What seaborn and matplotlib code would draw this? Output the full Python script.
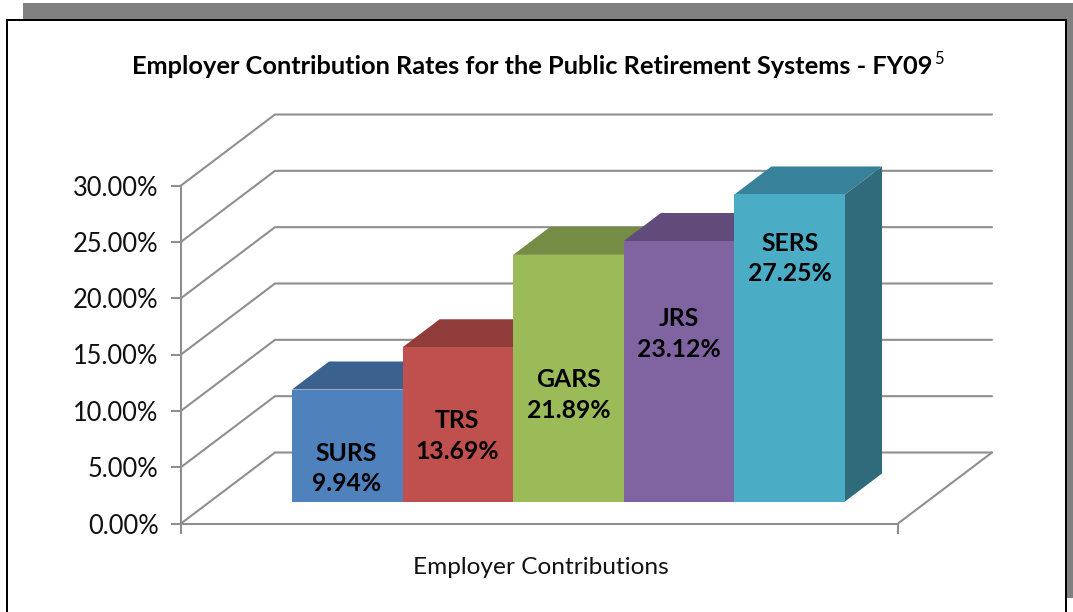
import matplotlib
matplotlib.use("Agg")
import matplotlib.pyplot as plt
from matplotlib.patches import Polygon, Rectangle
import pandas as pd
import seaborn as sns

systems = ["SURS", "TRS", "GARS", "JRS", "SERS"]
rates = [9.94, 13.69, 21.89, 23.12, 27.25]
rate_ticks = [0, 5, 10, 15, 20, 25, 30]
face_colors = ["#4F81BD", "#C0504D", "#9BBB59", "#8064A2", "#4BACC6"]
top_colors = ["#3B618E", "#903C3A", "#748C43", "#604B7A", "#38819A"]
side_colors = ["#2F4D71", "#733230", "#5D7036", "#4D3C61", "#2F6B7B"]

# Canvas and plot box, in pixels from the top left corner
W, H = 1073, 612
BOX_L, BOX_R, BOX_T, BOX_B = 181, 898, 185.5, 523.5
BAR_L, BAR_W = 292, 110.6
FLOOR_LIFT = 22          # bars stand this far above the front edge of the floor
WALL_DX, WALL_DY = 94, 71
BAR_DX, BAR_DY = 37, 28
GRID = "#8F8F8F"
LW = 1.5

# Per-label nudges: pixels below the bar top, pixels right of the bar centre
label_drop = [79, 89, 140, 93, 64]
label_shift = [-1, -1, 0, 0, 0]

sns.set_theme(style="white")
plt.rcParams["font.family"] = ["Lato", "DejaVu Sans"]

fig = plt.figure(figsize=(W / 100, H / 100), dpi=100, facecolor="white")
ax = fig.add_axes([BOX_L / W, 1 - BOX_B / H, (BOX_R - BOX_L) / W, (BOX_B - BOX_T) / H])
ax.patch.set_alpha(0)

per_pct = (BOX_B - BOX_T) / rate_ticks[-1]
xmin = -0.5 - (BAR_L - BOX_L) / BAR_W
xmax = xmin + (BOX_R - BOX_L) / BAR_W
to_x = lambda px: px / BAR_W
to_y = lambda px: px / per_pct

table = pd.DataFrame({"system": systems, "rate": rates})
base = to_y(FLOOR_LIFT)
sns.barplot(data=table, x="system", y="rate", hue="system", order=systems,
            hue_order=systems, palette=face_colors, width=1.0, bottom=base,
            legend=False, saturation=1, linewidth=0, zorder=4, ax=ax)
ax.set_xlim(xmin, xmax)
ax.set_ylim(0, rate_ticks[-1])

# Extruded top and side faces of each bar
ddx, ddy = to_x(BAR_DX), to_y(BAR_DY)
for i, rate in enumerate(rates):
    l, r, low, high = i - 0.5, i + 0.5, base, base + rate
    ax.add_patch(Polygon([(l, high), (l + ddx, high + ddy), (r + ddx, high + ddy), (r, high)],
                         closed=True, fc=top_colors[i], ec="none", zorder=2 + i * 0.1, clip_on=False))
    ax.add_patch(Polygon([(r, low), (r + ddx, low + ddy), (r + ddx, high + ddy), (r, high)],
                         closed=True, fc=side_colors[i], ec="none", zorder=2 + i * 0.1, clip_on=False))

# Side wall and back wall gridlines, plus the floor outline
wdx, wdy = to_x(WALL_DX), to_y(WALL_DY)
for tick in rate_ticks:
    ax.plot([xmin, xmin + wdx, xmax + wdx], [tick, tick + wdy, tick + wdy],
            color=GRID, lw=LW, clip_on=False, zorder=1, solid_joinstyle="miter")
ax.plot([xmax, xmax + wdx], [0, wdy], color=GRID, lw=LW, clip_on=False, zorder=1)

# Axes frame and ticks
for side in ("top", "right"):
    ax.spines[side].set_visible(False)
for side in ("left", "bottom"):
    ax.spines[side].set_color(GRID)
    ax.spines[side].set_linewidth(LW)
ax.set_yticks(rate_ticks)
ax.set_yticklabels([f"{t:.2f}%" for t in rate_ticks], fontsize=18.4, color="#111111")
ax.set_xticks([xmin, xmax])
ax.set_xticklabels(["", ""])
ax.tick_params(axis="both", direction="out", length=7, width=LW, color=GRID, pad=13,
               left=True, bottom=True)
ax.tick_params(axis="y", pad=9)
ax.set_ylabel("")
ax.set_xlabel("")

# Value labels inside the bars
for i, (name, rate) in enumerate(zip(systems, rates)):
    ax.annotate(f"{name}\n{rate:.2f}%", xy=(i, base + rate),
                xytext=(label_shift[i] * 0.72, -label_drop[i] * 0.72),
                textcoords="offset points", ha="center", va="center",
                fontsize=17.8, fontweight="bold", color="black",
                linespacing=1.41, zorder=6)

# Headings
title = fig.text(532 / W, 1 - 66.5 / H, "Employer Contribution Rates for the Public Retirement Systems - FY09",
                 ha="center", va="center", fontsize=18.3, fontweight="bold", color="black")
fig.canvas.draw()
ax.annotate("5", xy=(1, 1), xycoords=title, xytext=(1.5, -3), textcoords="offset points",
            ha="left", va="center", fontsize=12, color="black", annotation_clip=False)
fig.text(541 / W, 1 - 567 / H, "Employer Contributions", ha="center", va="center",
         fontsize=17.6, color="#111111")

# Outer frame with its grey drop shadow
def band(x0, y0, x1, y1, color):
    fig.add_artist(Rectangle((x0 / W, 1 - y1 / H), (x1 - x0) / W, (y1 - y0) / H,
                             transform=fig.transFigure, fc=color, ec="none", zorder=-1))

band(23, 3, W, 19, "#808080")
band(1067, 3, W, 598, "#808080")
band(6, 19, 1067, 21, "black")
band(6, 19, 8, H, "black")
band(1065, 19, 1067, H, "black")

fig.savefig("out.png", dpi=100)
